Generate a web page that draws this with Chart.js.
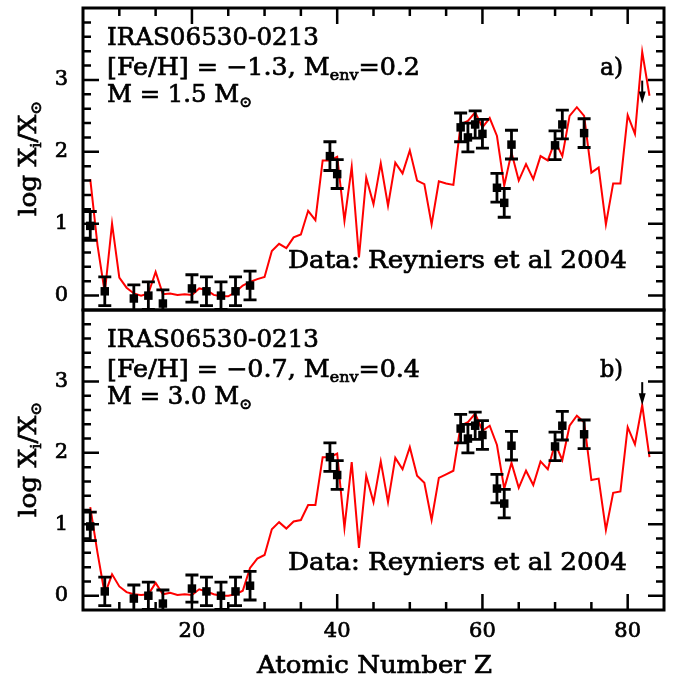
<!DOCTYPE html>
<html><head><meta charset="utf-8">
<script src="https://cdn.jsdelivr.net/npm/chart.js@4.4.1/dist/chart.umd.min.js"></script>
<style>
html,body{margin:0;padding:0;background:#fff;}
#wrap{position:relative;width:678px;height:679px;background:#fff;}
canvas{position:absolute;left:0;top:0;}
</style></head><body>
<div id="wrap"><canvas id="ca" width="678" height="679"></canvas><canvas id="cb" width="678" height="679"></canvas></div>
<script>
// ---- data ----
const modelZ = [6,7,8,9,10,11,12,13,14,15,16,17,18,19,20,21,22,23,24,25,26,27,28,29,30,31,32,33,34,35,36,37,38,39,40,41,42,43,44,45,46,47,48,49,50,51,52,53,54,55,56,57,58,59,60,61,62,63,64,65,66,67,68,69,70,71,72,73,74,75,76,77,78,79,80,81,82,83];
const modelA = [1.62,0.70,0.04,1.00,0.25,0.11,0.03,0.00,0.03,0.33,0.02,0.03,0.01,0.02,0.01,0.10,0.08,0.01,-0.01,-0.01,0.05,0.14,0.19,0.23,0.26,0.62,0.72,0.66,0.81,0.85,1.18,1.05,1.88,1.88,1.93,1.04,1.79,0.53,1.64,1.27,1.84,1.25,1.85,1.70,2.02,1.60,1.55,0.99,1.59,1.56,1.54,2.38,2.43,2.55,2.34,2.47,2.22,1.53,1.99,1.60,1.83,1.62,1.94,1.88,2.15,1.94,2.50,2.62,2.50,1.71,1.78,0.99,1.56,1.56,2.51,2.25,3.39,2.78];
const modelB = [1.24,0.60,0.02,0.30,0.13,0.05,0.02,0.01,0.02,0.18,0.02,0.04,0.01,0.02,0.01,0.09,0.06,0.02,0.00,0.00,0.02,0.07,0.39,0.52,0.57,0.93,1.03,0.94,1.04,1.06,1.27,1.27,1.94,1.94,1.99,0.95,1.87,0.67,1.68,1.31,1.88,1.31,1.93,1.77,2.08,1.68,1.58,1.06,1.65,1.70,1.75,2.38,2.43,2.55,2.31,2.38,2.11,1.50,1.86,1.51,1.75,1.55,1.88,1.77,2.13,1.90,2.38,2.52,2.43,1.62,1.64,0.92,1.44,1.46,2.36,2.12,2.67,1.94];
const obsZ   = [6,8,12,14,16,20,22,24,26,28,39,40,57,58,59,60,62,63,64,70,71,74];
const obsVal = [0.97,0.06,-0.04,0.00,-0.11,0.10,0.06,0.00,0.06,0.14,1.94,1.69,2.34,2.20,2.38,2.25,1.50,1.29,2.10,2.09,2.38,2.26];
const obsErr = [0.20,0.20,0.19,0.19,0.19,0.19,0.20,0.19,0.20,0.20,0.20,0.20,0.20,0.20,0.19,0.20,0.20,0.20,0.20,0.20,0.20,0.20];
const ulZ   = [82];
const ulVal = [2.99];
const xTickLabels = [20,40,60,80];
const yTickLabels = [0,1,2,3];
const xMinor = [10,15,20,25,30,35,40,45,50,55,60,65,70,75,80];
const xMajor = [20,40,60,80];
const yMinor = [0,0.2,0.4,0.6,0.8,1,1.2,1.4,1.6,1.8,2,2.2,2.4,2.6,2.8,3,3.2,3.4,3.6,3.8];
const yMajor = [0,1,2,3];

const panels = [
  {id:'ca', model:modelA, bottom:false, feh:'−1.3', menv:'0.2', mass:'1.5', tag:'a)'},
  {id:'cb', model:modelB, bottom:true,  feh:'−0.7', menv:'0.4', mass:'3.0', tag:'b)'}
];

const FONT = "'DejaVu Serif', serif";

function drawRich(ctx, parts, x, y, width, size, align) {
  let nat = 0;
  parts.forEach(p => {
    ctx.font = (p.sub ? Math.round(size*0.62) : size) + 'px ' + FONT;
    p.w = ctx.measureText(p.t).width;
    nat += p.w;
  });
  const sx = width / nat;
  ctx.save();
  ctx.translate(align === 'right' ? x - width : x, y);
  ctx.scale(sx, 1);
  let cx = 0;
  ctx.fillStyle = '#000'; ctx.strokeStyle = '#000'; ctx.lineWidth = 0.7;
  ctx.textBaseline = 'alphabetic'; ctx.textAlign = 'left';
  parts.forEach(p => {
    ctx.font = (p.sub ? Math.round(size*0.62) : size) + 'px ' + FONT;
    const dy = p.sub ? size*0.22 : 0;
    ctx.fillText(p.t, cx, dy);
    ctx.strokeText(p.t, cx, dy);
    cx += p.w;
  });
  ctx.restore();
}

function framePlugin(panel) {
  return {
    id: 'frame' + panel.id,
    afterDatasetDraw(chart, args) {
      if (args.index !== 1) return;
      const ctx = chart.ctx, xs = chart.scales.x, ys = chart.scales.y;
      ctx.save();
      ctx.strokeStyle = '#000'; ctx.lineWidth = 2.8; ctx.lineCap = 'butt';
      obsZ.forEach((z, i) => {
        const px = xs.getPixelForValue(z);
        const top = ys.getPixelForValue(obsVal[i] + obsErr[i]);
        const rawBot = ys.getPixelForValue(obsVal[i] - obsErr[i]);
        const bot = Math.min(rawBot, chart.chartArea.bottom);
        ctx.beginPath();
        ctx.moveTo(px, top); ctx.lineTo(px, bot);
        ctx.moveTo(px - 6.5, top); ctx.lineTo(px + 6.5, top);
        if (rawBot <= chart.chartArea.bottom) {
          ctx.moveTo(px - 6.5, bot); ctx.lineTo(px + 6.5, bot);
        }
        ctx.stroke();
      });
      ctx.restore();
    },
    afterDraw(chart) {
      const ctx = chart.ctx, xs = chart.scales.x, ys = chart.scales.y, a = chart.chartArea;
      ctx.save();
      // upper limit arrows
      ctx.strokeStyle = '#000'; ctx.fillStyle = '#000'; ctx.lineWidth = 2;
      ulZ.forEach((z, i) => {
        const px = xs.getPixelForValue(z), py = ys.getPixelForValue(ulVal[i]);
        ctx.beginPath(); ctx.moveTo(px, py); ctx.lineTo(px, py + 14); ctx.stroke();
        ctx.beginPath(); ctx.moveTo(px - 3.5, py + 11); ctx.lineTo(px + 3.5, py + 11); ctx.lineTo(px, py + 23); ctx.closePath(); ctx.fill();
      });
      // frame
      ctx.lineWidth = 3; ctx.strokeStyle = '#000';
      ctx.strokeRect(a.left, a.top, a.right - a.left, a.bottom - a.top);
      // y ticks both sides
      ctx.lineWidth = 2.5;
      ctx.beginPath();
      yMinor.forEach(v => {
        const py = ys.getPixelForValue(v);
        const L = yMajor.includes(v) ? 16 : 8;
        ctx.moveTo(a.left, py); ctx.lineTo(a.left + L, py);
        ctx.moveTo(a.right, py); ctx.lineTo(a.right - L, py);
      });
      // x ticks: top of panel a, bottom of panel b
      xMinor.forEach(v => {
        const px = xs.getPixelForValue(v);
        const L = xMajor.includes(v) ? 16 : 8;
        if (!panel.bottom) { ctx.moveTo(px, a.top); ctx.lineTo(px, a.top + L); }
        else { ctx.moveTo(px, a.bottom); ctx.lineTo(px, a.bottom - L); }
      });
      ctx.stroke();
      // texts
      const T = a.top;
      drawRich(ctx, [{t:'IRAS06530-0213'}], 107, T + 37, 212, 24);
      drawRich(ctx, [{t:'[Fe/H] = ' + panel.feh + ', M'}, {t:'env', sub:true}, {t:'=' + panel.menv}], 107, T + 67, 313, 24);
      drawRich(ctx, [{t:'M = ' + panel.mass + ' M'}, {t:'⊙', sub:true}], 107, T + 94, 145, 24);
      drawRich(ctx, [{t:panel.tag}], 623, T + 67, 23, 24, 'right');
      drawRich(ctx, [{t:'Data: Reyniers et al 2004'}], 288, T + 260, 339, 24);
      // y axis title
      ctx.save();
      ctx.translate(36, (a.top + a.bottom) / 2);
      ctx.rotate(-Math.PI / 2);
      drawRich(ctx, [{t:'log X'}, {t:'i', sub:true}, {t:'/X'}, {t:'⊙', sub:true}], -57, 0, 115, 24);
      ctx.restore();
      if (panel.bottom) {
        drawRich(ctx, [{t:'Atomic Number Z'}], 257, 673, 235, 24);
      }
      ctx.restore();
    }
  };
}

panels.forEach(panel => {
  new Chart(document.getElementById(panel.id), {
    type: 'line',
    data: {
      datasets: [
        {type:'scatter', data: obsZ.map((z, i) => ({x:z, y:obsVal[i]})), pointStyle:'rect', pointRadius:6, pointHoverRadius:6, backgroundColor:'#000', borderColor:'#000', borderWidth:0},
        {type:'line', data: panel.model.map((v, i) => ({x:modelZ[i], y:v})), borderColor:'#ff0000', borderWidth:2, pointRadius:0, tension:0, fill:false}
      ]
    },
    options: {
      responsive:false, animation:false, devicePixelRatio:1, events:[],
      layout: {padding: {left:0, right:14, top: panel.bottom ? 310 : 8, bottom: panel.bottom ? 0 : 369}},
      plugins: {legend:{display:false}, tooltip:{enabled:false}},
      scales: {
        x: {
          type:'linear', min:5, max:85, display: panel.bottom,
          grid:{display:false, drawTicks:false}, border:{display:false},
          afterBuildTicks: s => { s.ticks = xTickLabels.map(v => ({value:v})); },
          ticks:{font:{family:FONT, size:21}, color:'#000', padding:9, maxRotation:0, autoSkip:false, textStrokeColor:'#000', textStrokeWidth:0.7},
          afterFit: s => { if (panel.bottom) { s.height = 69; } else { s.height = 0; } s.paddingLeft = 0; s.paddingRight = 0; }
        },
        y: {
          type:'linear', min:-0.2, max:4,
          grid:{display:false, drawTicks:false}, border:{display:false},
          afterBuildTicks: s => { s.ticks = yTickLabels.map(v => ({value:v})); },
          ticks:{font:{family:FONT, size:21}, color:'#000', padding:15, textStrokeColor:'#000', textStrokeWidth:0.7},
          afterFit: s => { s.width = 83; s.paddingTop = 0; s.paddingBottom = 0; }
        }
      }
    },
    plugins: [framePlugin(panel)]
  });
});
</script>
</body></html>
